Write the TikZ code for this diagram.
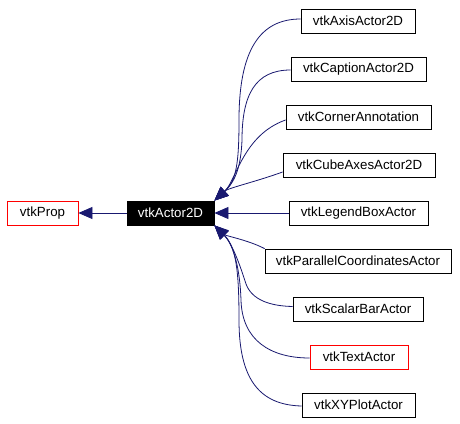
\documentclass[tikz,border=0pt]{standalone}
\usepackage{fontspec}
\setmainfont{Liberation Sans}
\usetikzlibrary{arrows.meta}
\definecolor{edgec}{HTML}{191970}
\begin{document}
\begin{tikzpicture}[x=1pt,y=-1pt,
 box/.style={draw=black, line width=0.8pt, minimum height=24pt, inner sep=0pt, font=\fontsize{13.3}{15}\selectfont},
 redbox/.style={box, draw=red},
 darkbox/.style={box, fill=black, text=white},
 arr/.style={draw=edgec, line width=0.8pt, arrows={Triangle[length=14pt,width=12pt]-}}]
\fill[white] (0,0) rectangle (460,423);
\useasboundingbox (0,0) rectangle (460,423);
\node[redbox, minimum width=71pt] (prop) at (42.5,213) {vtkProp};
\node[darkbox, minimum width=87pt] (actor) at (170.5,213) {vtkActor2D};
\node[box, minimum width=114pt] (axis) at (358,21) {vtkAxisActor2D};
\node[box, minimum width=135pt] (caption) at (358.5,69) {vtkCaptionActor2D};
\node[box, minimum width=145pt] (corner) at (358.5,117) {vtkCornerAnnotation};
\node[box, minimum width=152pt] (cube) at (359,165) {vtkCubeAxesActor2D};
\node[box, minimum width=139pt] (legend) at (358.5,213) {vtkLegendBoxActor};
\node[box, minimum width=186pt] (par) at (358,261) {vtkParallelCoordinatesActor};
\node[box, minimum width=130pt] (sb) at (358,309) {vtkScalarBarActor};
\node[redbox, minimum width=98pt] (textact) at (359,357) {vtkTextActor};
\node[box, minimum width=113pt] (xy) at (358.5,405) {vtkXYPlotActor};

\draw[arr] (prop.east) -- (actor.west);
\draw[arr] (actor.north east) .. controls (236,181) and (239,165) .. (239,120) .. controls (239,50) and (260,19) .. ([yshift=2pt]axis.west);
\draw[arr] (actor.north east) .. controls (236,181) and (241,165) .. (242,140) .. controls (242,95) and (255,70) .. ([yshift=-1pt]caption.west);
\draw[arr] (actor.north east) .. controls (236,181) and (243,135) .. ([yshift=-3pt]corner.west);
\draw[arr] (actor.north east) .. controls (228,188) and (255,182) .. ([yshift=-7pt]cube.west);
\draw[arr] (actor.east) -- (legend.west);
\draw[arr] (actor.south east) .. controls (226,236) and (248,240) .. (par.north west);
\draw[arr] (actor.south east) .. controls (232,243) and (240,265) .. (246,284) .. controls (252,300) and (270,306) .. ([yshift=2.5pt]sb.west);
\draw[arr] (actor.south east) .. controls (234,245) and (240,270) .. (241,300) .. controls (242,340) and (270,358) .. ([yshift=-1pt]textact.west);
\draw[arr] (actor.south east) .. controls (236,247) and (239,270) .. (239,320) .. controls (239,380) and (260,405) .. ([yshift=-1pt]xy.west);
\end{tikzpicture}
\end{document}
